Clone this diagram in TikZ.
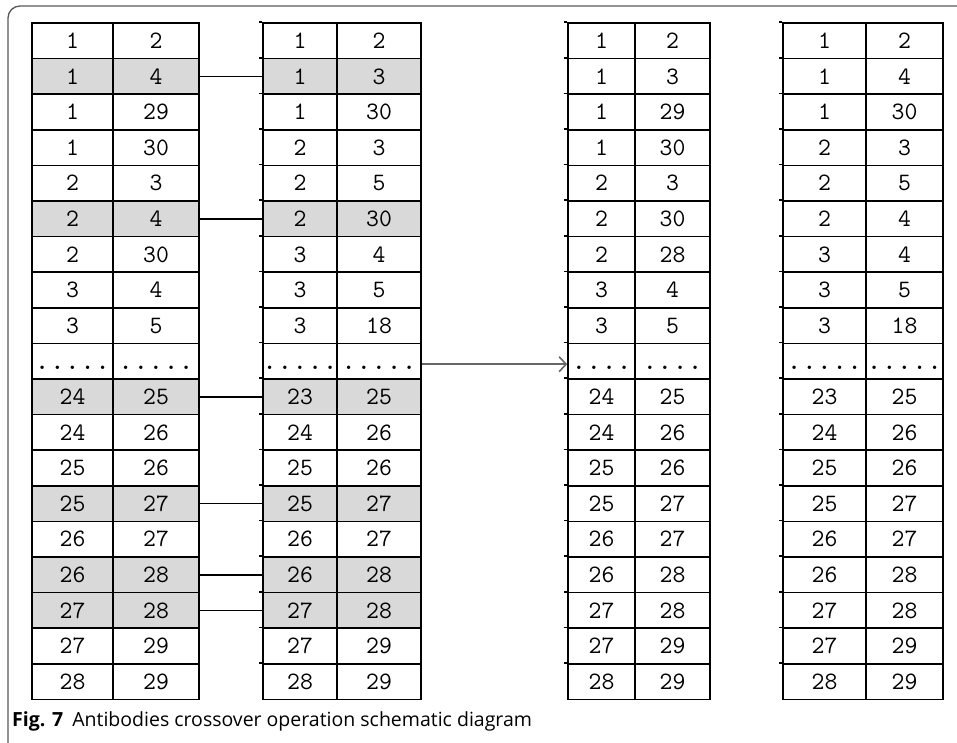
\documentclass[tikz,border=0pt]{standalone}
\usepackage{fontspec}
\newfontfamily\capfont{Open Sans}
\usetikzlibrary{arrows.meta}
\newcommand\dotsfive{\raisebox{-8pt}[0pt][0pt]{\bfseries.\hspace{2pt}.\hspace{2pt}.\hspace{2pt}.\hspace{2pt}.}}
\newcommand\dotsfour{\raisebox{-8pt}[0pt][0pt]{\bfseries.\hspace{2pt}.\hspace{2pt}.\hspace{2pt}.}}
\tikzset{
  cell/.style={draw, line width=1.6pt, inner sep=0pt, minimum height=35.6pt,
    font=\fontsize{25}{25}\selectfont\ttfamily},
  hit/.style={fill=black!15},
  plain/.style={},
  link/.style={line width=1.5pt},
  move/.style={draw=black!60, line width=1.6pt, -{Straight Barb[length=7pt,width=15pt]}},
  tick/.style={line width=1.6pt}
}

\begin{document}
\begin{tikzpicture}[x=1pt,y=-1pt]
\clip (0,0) rectangle (957,742);
% outer frame
\draw[draw=black!65, line width=1.3pt, rounded corners=12pt] (8,6) rectangle (990,780);

% table 1 (parent A)
\foreach \r/\a/\b/\s [evaluate=\r as \y using 23+(\r-0.5)*35.6] in {
  1/1/2/plain, 2/1/4/hit, 3/1/29/plain, 4/1/30/plain, 5/2/3/plain,
  6/2/4/hit, 7/2/30/plain, 8/3/4/plain, 9/3/5/plain, 10/\dotsfive/\dotsfive/plain,
  11/24/25/hit, 12/24/26/plain, 13/25/26/plain, 14/25/27/hit, 15/26/27/plain,
  16/26/28/hit, 17/27/28/hit, 18/27/29/plain, 19/28/29/plain}{
  \node[cell, \s, minimum width=81pt] (t1-\r-1) at (72.5,\y) {\a};
  \node[cell, \s, minimum width=86pt] (t1-\r-2) at (156,\y) {\b};
}

% table 2 (parent B)
\foreach \r/\a/\b/\s [evaluate=\r as \y using 23+(\r-0.5)*35.6] in {
  1/1/2/plain, 2/1/3/hit, 3/1/30/plain, 4/2/3/plain, 5/2/5/plain,
  6/2/30/hit, 7/3/4/plain, 8/3/5/plain, 9/3/18/plain, 10/\dotsfive/\dotsfive/plain,
  11/23/25/hit, 12/24/26/plain, 13/25/26/plain, 14/25/27/hit, 15/26/27/plain,
  16/26/28/hit, 17/27/28/hit, 18/27/29/plain, 19/28/29/plain}{
  \node[cell, \s, minimum width=74pt] (t2-\r-1) at (300,\y) {\a};
  \node[cell, \s, minimum width=84pt] (t2-\r-2) at (379,\y) {\b};
  \draw[tick] ([xshift=-3pt]t2-\r-1.north west) -- (t2-\r-1.north west);
}

% table 3 (child A)
\foreach \r/\a/\b [evaluate=\r as \y using 23+(\r-0.5)*35.6] in {
  1/1/2, 2/1/3, 3/1/29, 4/1/30, 5/2/3,
  6/2/30, 7/2/28, 8/3/4, 9/3/5, 10/\dotsfour/\dotsfour,
  11/24/25, 12/24/26, 13/25/26, 14/25/27, 15/26/27,
  16/26/28, 17/27/28, 18/27/29, 19/28/29}{
  \node[cell, minimum width=67pt] (t3-\r-1) at (601.5,\y) {\a};
  \node[cell, minimum width=75pt] (t3-\r-2) at (672.5,\y) {\b};
  \draw[tick] ([xshift=-3pt]t3-\r-1.north west) -- (t3-\r-1.north west);
}

% table 4 (child B)
\foreach \r/\a/\b [evaluate=\r as \y using 23+(\r-0.5)*35.6] in {
  1/1/2, 2/1/4, 3/1/30, 4/2/3, 5/2/5,
  6/2/4, 7/3/4, 8/3/5, 9/3/18, 10/\dotsfive/\dotsfive,
  11/23/25, 12/24/26, 13/25/26, 14/25/27, 15/26/27,
  16/26/28, 17/27/28, 18/27/29, 19/28/29}{
  \node[cell, minimum width=83pt] (t4-\r-1) at (824.5,\y) {\a};
  \node[cell, minimum width=77pt] (t4-\r-2) at (904.5,\y) {\b};
  \draw[tick] ([xshift=-3pt]t4-\r-1.north west) -- (t4-\r-1.north west);
}

% crossover links
\foreach \r in {2,6,11,14,16,17}
  \draw[link] (t1-\r-2.east) -- (t2-\r-1.west);
\draw[move] ([yshift=-3pt]t2-10-2.east) -- ([yshift=-3pt]t3-10-1.west);

% caption
\node[anchor=base west, inner sep=0pt, font=\capfont\fontsize{19.5}{19.5}\selectfont] (cap) at (12,726)
  {\textbf{Fig. 7}\hspace{9pt}Antibodies crossover operation schematic diagram};
\end{tikzpicture}
\end{document}
